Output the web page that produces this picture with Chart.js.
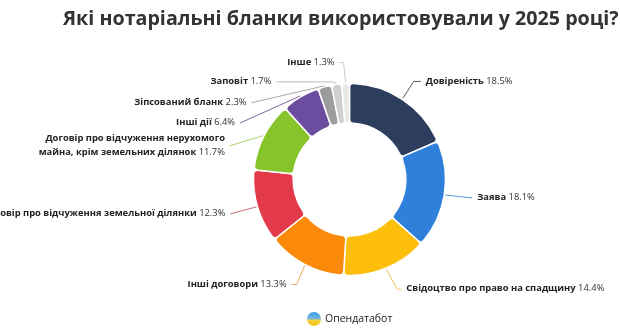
<!DOCTYPE html>
<html><head><meta charset="utf-8">
<script src="https://cdn.jsdelivr.net/npm/chart.js@4/dist/chart.umd.min.js"></script>
<style>
html,body{margin:0;padding:0;background:#fff;width:620px;height:332px;overflow:hidden;}
#wrap{position:relative;width:620px;height:332px;}
#c{position:absolute;left:0;top:0;}
#title{position:absolute;left:63px;top:4px;font:bold 19.7px "Open Sans";color:#333;white-space:nowrap;}
#logo{position:absolute;left:307px;top:312px;width:14px;height:14px;border-radius:50%;background:linear-gradient(#3d9be0 0%,#6fb6e8 45%,#f3cf3a 60%,#f1c21f 100%);}
#src{position:absolute;left:325px;top:311px;font:10.5px "Open Sans";color:#222;white-space:nowrap;}
</style></head><body>
<div id="wrap">
<canvas id="c" width="620" height="332"></canvas>
<div id="title">Які нотаріальні бланки використовували у 2025 році?</div>
<div id="logo"></div><div id="src">Опендатабот</div>
</div>
<script>
// ---- data ----
const categories = [
  "Довіреність",
  "Заява",
  "Свідоцтво про право на спадщину",
  "Інші договори",
  "Договір про відчуження земельної ділянки",
  "Договір про відчуження нерухомого\nмайна, крім земельних ділянок",
  "Інші дії",
  "Зіпсований бланк",
  "Заповіт",
  "Інше"
];
const shares = [18.5, 18.1, 14.4, 13.3, 12.3, 11.7, 6.4, 2.3, 1.7, 1.3];
const valueLabels = ["18.5%", "18.1%", "14.4%", "13.3%", "12.3%", "11.7%", "6.4%", "2.3%", "1.7%", "1.3%"];

// ---- styles ----
const sliceColors = ["#2c3d5e", "#2f80da", "#fdbf0c", "#fb8a0a", "#e33a4b", "#85c42a", "#6b4c9f", "#9c9c9c", "#cfcfcf", "#e9e9e9"];
const lineColors  = ["#555c66", "#5c9ad8", "#e6c35a", "#e8a760", "#c86a74", "#a9cf70", "#7b6a99", "#a8a8a8", "#b8b8b8", "#c8c8c8"];
// leader layout: elbow offset from slice anchor, horizontal run, side
const leaderLayout = [
  {dx: 11, dy: -17, run: 7, side: 1},
  {dx: 27, dy: 3, run: 0, side: 1},
  {dx: 11, dy: 20, run: 4, side: 1},
  {dx: -8, dy: 19, run: 5, side: -1},
  {dx: -26, dy: 7, run: 0, side: -1},
  {dx: -33, dy: 10, run: 0, side: -1},
  {dx: -60, dy: 27, run: 0, side: -1},
  {dx: -73, dy: 17, run: 0, side: -1},
  {dx: -4, dy: -1.5, run: 56, side: -1},
  {dx: -2, dy: -20, run: 4, side: -1}
];

const FONT_FAMILY = '"Open Sans", "Noto Sans", sans-serif';
const LABEL_SIZE = 9.4;

const leaderPlugin = {
  id: 'leaders',
  afterDatasetsDraw(chart) {
    const ctx = chart.ctx;
    const meta = chart.getDatasetMeta(0);
    meta.data.forEach((arc, i) => {
      const p = arc.getProps(['x', 'y', 'startAngle', 'endAngle', 'outerRadius'], true);
      const mid = (p.startAngle + p.endAngle) / 2;
      const ax = p.x + Math.cos(mid) * (p.outerRadius + 1);
      const ay = p.y + Math.sin(mid) * (p.outerRadius + 1);
      const L = leaderLayout[i];
      const ex = ax + L.dx, ey = ay + L.dy;
      const hx = ex + L.side * L.run;
      ctx.save();
      ctx.strokeStyle = lineColors[i];
      ctx.lineWidth = 1;
      ctx.beginPath();
      ctx.moveTo(ax, ay);
      ctx.lineTo(ex, ey);
      ctx.lineTo(hx, ey);
      ctx.stroke();
      // text
      const lines = categories[i].split('\n');
      const gap = 5;
      const lh = 14;
      const boldFont = 'bold ' + LABEL_SIZE + 'px ' + FONT_FAMILY;
      const regFont = LABEL_SIZE + 'px ' + FONT_FAMILY;
      ctx.textBaseline = 'middle';
      const y0 = ey - (lines.length - 1) * lh / 2 - 0.5;
      lines.forEach((ln, k) => {
        const isLast = k === lines.length - 1;
        ctx.font = boldFont;
        const wName = ctx.measureText(ln + (isLast ? ' ' : '')).width;
        ctx.font = regFont;
        const wVal = isLast ? ctx.measureText(valueLabels[i]).width : 0;
        const total = wName + wVal;
        const tx = L.side > 0 ? hx + gap : hx - gap - total;
        const ty = y0 + k * lh;
        ctx.textAlign = 'left';
        ctx.font = boldFont;
        ctx.fillStyle = '#222';
        ctx.fillText(ln + (isLast ? ' ' : ''), tx, ty);
        if (isLast) {
          ctx.font = regFont;
          ctx.fillStyle = '#333';
          ctx.fillText(valueLabels[i], tx + wName, ty);
        }
      });
      ctx.restore();
    });
  }
};

new Chart(document.getElementById('c'), {
  type: 'doughnut',
  data: {
    labels: categories,
    datasets: [{
      data: shares,
      backgroundColor: sliceColors,
      borderColor: '#ffffff',
      borderWidth: 1.5,
      borderRadius: 4,
      radius: 96,
      cutout: 58
    }]
  },
  options: {
    responsive: false,
    animation: false,
    events: [],
    layout: {padding: {left: 200, right: 121, top: 80, bottom: 53}},
    plugins: {legend: {display: false}, tooltip: {enabled: false}, title: {display: false}}
  },
  plugins: [leaderPlugin]
});
</script>
</body></html>
